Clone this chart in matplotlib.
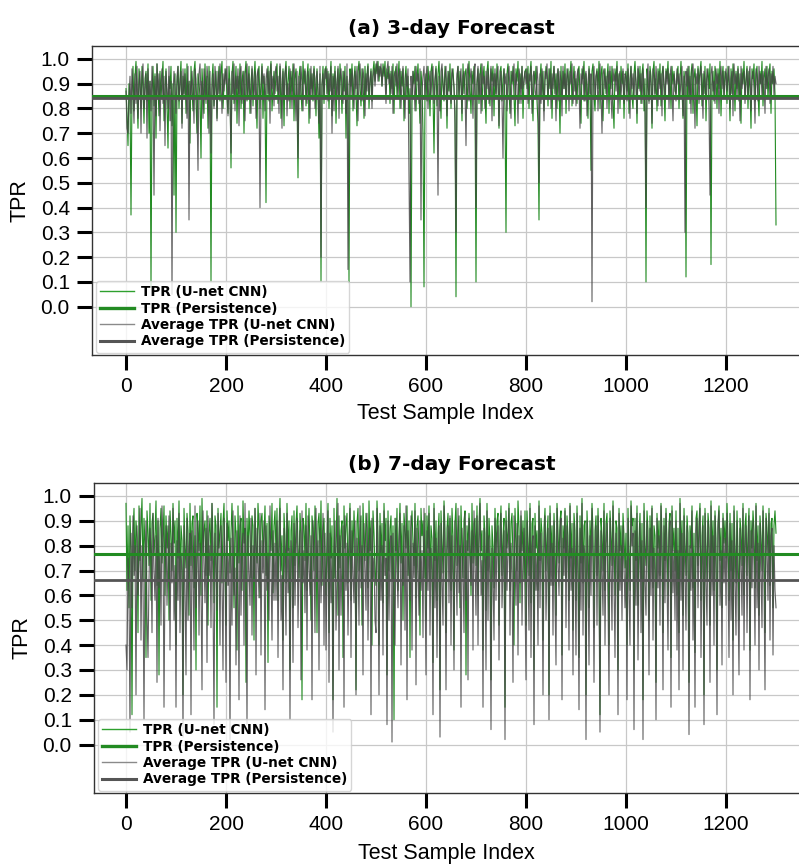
import numpy as np
import matplotlib
matplotlib.use("Agg")
import matplotlib.pyplot as plt
from matplotlib.lines import Line2D

plt.rcParams['font.family'] = ['Liberation Sans', 'DejaVu Sans']

# TPR per test sample in percent, one value for every 2nd test sample (0, 2, ..., 1300)

# ---------------- (a) 3-day forecast ----------------
tpr3_unet = [
    88, 78, 65, 90, 84, 37, 86, 97, 79, 93, 99, 85, 72, 96, 90, 80, 97, 88, 74, 92, 95, 83, 98, 70, 91,
    8, 86, 97, 81, 94, 68, 98, 89, 77, 95, 84, 92, 99, 75, 87, 96, 82, 64, 93, 88, 97, 73, 90, 45, 94,
    30, 89, 97, 80, 92, 99, 74, 93, 86, 96, 78, 98, 84, 91, 66, 97, 88, 79, 95, 99, 83, 70, 94, 90, 85,
    60, 96, 87, 78, 98, 84, 93, 72, 97, 86, 10, 92, 98, 81, 88, 95, 76, 90, 97, 83, 94, 99, 80, 89, 93,
    96, 84, 78, 97, 90, 56, 94, 99, 82, 88, 97, 74, 93, 86, 98, 80, 91, 95, 70, 94, 99, 83, 89, 97, 78,
    91, 96, 81, 92, 99, 87, 72, 94, 97, 80, 90, 98, 76, 93, 85, 42, 91, 97, 83, 94, 99, 79, 88, 95, 86,
    94, 98, 82, 90, 97, 76, 88, 96, 73, 94, 99, 85, 91, 97, 80, 95, 87, 98, 75, 92, 96, 84, 52, 93, 97,
    86, 79, 99, 90, 95, 81, 93, 98, 74, 96, 88, 94, 83, 97, 90, 77, 96, 86, 68, 94, 10, 89, 97, 82, 95,
    97, 86, 95, 80, 92, 99, 77, 94, 88, 97, 74, 91, 96, 84, 98, 90, 78, 95, 87, 97, 68, 93, 82, 10, 96,
    89, 98, 79, 92, 97, 86, 73, 95, 99, 88, 81, 96, 91, 76, 97, 85, 94, 98, 80, 90, 96, 83, 95, 99, 91,
    98, 94, 99, 91, 97, 96, 89, 98, 93, 99, 86, 96, 92, 97, 82, 95, 88, 98, 78, 94, 97, 85, 92, 99, 80,
    95, 89, 96, 75, 92, 97, 84, 93, 78, 88, 0, 82, 95, 90, 97, 79, 92, 98, 86, 74, 95, 89, 70, 8, 88,
    94, 83, 97, 90, 77, 95, 98, 86, 62, 92, 97, 81, 94, 99, 88, 76, 96, 90, 83, 97, 92, 72, 95, 87, 98,
    80, 94, 96, 88, 79, 4, 92, 97, 84, 95, 90, 75, 98, 86, 94, 96, 80, 92, 99, 88, 78, 95, 90, 97, 85,
    10, 90, 96, 82, 94, 98, 79, 92, 97, 86, 74, 95, 99, 88, 81, 96, 91, 97, 77, 94, 86, 98, 90, 72, 95,
    97, 83, 92, 96, 80, 30, 94, 98, 87, 78, 95, 90, 97, 85, 73, 96, 91, 99, 82, 94, 88, 97, 76, 92, 95,
    96, 88, 97, 80, 94, 99, 86, 75, 95, 90, 97, 83, 74, 35, 92, 98, 85, 95, 79, 91, 97, 93, 81, 96, 88,
    99, 76, 92, 97, 86, 94, 80, 96, 90, 70, 97, 84, 95, 88, 98, 78, 92, 96, 85, 94, 99, 81, 90, 97, 87,
    92, 82, 95, 97, 86, 74, 96, 92, 99, 83, 94, 88, 76, 97, 90, 55, 95, 98, 85, 79, 93, 96, 88, 99, 80,
    94, 97, 75, 91, 96, 86, 92, 98, 78, 95, 88, 97, 83, 72, 96, 91, 99, 85, 94, 80, 97, 90, 95, 76, 92,
    95, 87, 98, 78, 92, 97, 85, 80, 94, 99, 90, 74, 96, 88, 97, 82, 94, 98, 79, 92, 10, 96, 89, 83, 97,
    93, 72, 95, 99, 86, 92, 79, 96, 90, 98, 81, 94, 97, 88, 75, 96, 92, 99, 85, 94, 80, 97, 90, 95, 87,
    86, 94, 97, 80, 92, 99, 88, 76, 95, 90, 12, 96, 85, 97, 82, 94, 98, 78, 92, 96, 88, 73, 97, 90, 95,
    99, 81, 94, 86, 97, 75, 92, 96, 88, 98, 17, 90, 95, 83, 97, 93, 80, 96, 88, 99, 77, 92, 97, 85, 95,
    94, 82, 97, 90, 75, 96, 86, 98, 92, 79, 95, 88, 97, 83, 94, 74, 96, 90, 99, 85, 92, 97, 80, 95, 88,
    72, 96, 92, 98, 83, 94, 97, 86, 77, 95, 90, 99, 81, 92, 96, 88, 97, 84, 94, 98, 78, 95, 90, 96, 86,
    33]
tpr3_pers = [
    87, 72, 70, 84, 93, 78, 96, 86, 74, 94, 82, 97, 76, 90, 95, 70, 93, 98, 80, 88, 94, 68, 96, 84, 91,
    79, 97, 87, 45, 93, 77, 98, 85, 94, 71, 90, 96, 82, 93, 65, 95, 88, 80, 97, 75, 91, 5, 86, 95, 89,
    78, 93, 97, 83, 90, 95, 72, 96, 85, 94, 88, 76, 97, 35, 91, 84, 95, 87, 74, 96, 92, 80, 55, 94, 98,
    85, 91, 76, 96, 89, 82, 97, 92, 70, 95, 62, 88, 94, 80, 97, 91, 75, 95, 86, 98, 90, 78, 94, 87, 96,
    90, 97, 77, 92, 84, 62, 95, 86, 98, 79, 93, 88, 96, 73, 94, 97, 82, 90, 95, 75, 92, 98, 84, 94, 87,
    78, 97, 91, 85, 95, 76, 93, 96, 88, 40, 84, 97, 90, 94, 79, 92, 96, 86, 95, 74, 98, 88, 93, 81, 94,
    97, 87, 93, 78, 98, 91, 72, 95, 85, 94, 97, 77, 90, 83, 96, 91, 80, 94, 98, 88, 75, 95, 60, 93, 85,
    97, 90, 79, 94, 96, 87, 82, 95, 91, 76, 97, 85, 93, 96, 80, 92, 95, 88, 74, 97, 20, 90, 94, 84, 96,
    92, 96, 83, 94, 87, 97, 70, 93, 79, 95, 90, 84, 97, 76, 93, 96, 88, 82, 95, 91, 78, 98, 15, 90, 94,
    85, 96, 91, 80, 95, 88, 97, 75, 93, 98, 90, 83, 96, 92, 77, 94, 87, 97, 85, 92, 95, 80, 93, 96, 89,
    96, 99, 91, 97, 93, 98, 89, 95, 97, 92, 82, 96, 99, 90, 94, 86, 97, 78, 93, 95, 89, 98, 84, 94, 96,
    80, 91, 97, 87, 76, 94, 89, 96, 55, 10, 93, 84, 95, 90, 79, 97, 91, 94, 82, 96, 35, 87, 93, 97, 84,
    93, 97, 80, 90, 95, 85, 94, 97, 82, 91, 96, 88, 45, 93, 79, 95, 98, 90, 84, 94, 97, 77, 92, 95, 87,
    82, 96, 93, 89, 74, 30, 94, 97, 85, 91, 96, 78, 93, 95, 88, 65, 94, 98, 83, 91, 96, 89, 76, 95, 98,
    40, 91, 97, 84, 94, 78, 98, 90, 93, 80, 95, 88, 96, 82, 91, 97, 75, 94, 89, 96, 84, 93, 97, 73, 91,
    95, 83, 60, 96, 90, 94, 79, 93, 97, 87, 76, 95, 91, 98, 85, 94, 89, 74, 96, 93, 82, 97, 88, 91, 95,
    90, 96, 82, 94, 91, 97, 78, 93, 95, 87, 84, 97, 91, 50, 94, 82, 96, 89, 75, 95, 92, 98, 85, 91, 96,
    80, 94, 88, 97, 90, 75, 93, 96, 83, 95, 91, 77, 97, 88, 94, 84, 96, 93, 79, 95, 90, 98, 82, 91, 95,
    81, 93, 96, 88, 72, 94, 90, 97, 83, 93, 95, 77, 91, 96, 86, 94, 2, 90, 97, 84, 93, 95, 79, 91, 98,
    86, 70, 94, 96, 88, 93, 80, 95, 90, 97, 84, 76, 96, 91, 94, 87, 97, 78, 93, 95, 85, 91, 96, 82, 94,
    93, 83, 96, 90, 76, 97, 88, 94, 84, 95, 91, 78, 97, 93, 87, 94, 82, 96, 90, 79, 40, 91, 98, 82, 95,
    90, 74, 96, 93, 85, 97, 91, 81, 95, 88, 94, 77, 97, 91, 84, 95, 90, 96, 80, 93, 97, 88, 75, 94, 91,
    83, 96, 90, 94, 85, 91, 97, 77, 93, 30, 95, 89, 97, 84, 93, 78, 95, 98, 88, 72, 94, 90, 96, 82, 93,
    97, 88, 76, 95, 91, 85, 96, 93, 80, 45, 94, 97, 87, 91, 82, 96, 90, 94, 78, 93, 97, 88, 95, 84, 91,
    96, 87, 93, 97, 80, 92, 95, 77, 98, 90, 94, 84, 96, 91, 75, 97, 88, 93, 95, 82, 90, 96, 85, 94, 97,
    79, 92, 95, 88, 74, 96, 93, 83, 97, 90, 94, 85, 95, 91, 78, 97, 88, 93, 96, 82, 94, 90, 97, 85, 93,
    90]
avg3_unet = 0.852
avg3_pers = 0.843

# ---------------- (b) 7-day forecast ----------------
tpr7_unet = [
    97, 62, 88, 55, 92, 78, 12, 85, 95, 70, 90, 83, 45, 96, 74, 88, 99, 66, 91, 80, 35, 94, 86, 72, 97,
    58, 89, 93, 76, 84, 98, 64, 90, 28, 87, 95, 73, 82, 96, 60, 92, 79, 88, 50, 94, 85, 70, 97, 81, 90,
    40, 91, 75, 98, 66, 88, 82, 20, 95, 80, 71, 93, 86, 52, 97, 72, 89, 92, 63, 84, 30, 93, 87, 78, 96,
    60, 99, 77, 86, 90, 68, 94, 48, 85, 91, 74, 97, 83, 57, 92, 88, 15, 95, 79, 86, 93, 65, 89, 97, 73,
    48, 94, 82, 90, 69, 85, 97, 79, 55, 92, 85, 38, 96, 73, 88, 91, 62, 98, 81, 87, 25, 91, 76, 94, 84,
    67, 92, 88, 42, 95, 80, 73, 97, 86, 59, 90, 93, 77, 84, 96, 68, 89, 33, 92, 85, 78, 97, 61, 88, 94,
    76, 95, 58, 87, 99, 70, 84, 42, 93, 84, 65, 97, 78, 90, 30, 86, 92, 55, 94, 72, 89, 96, 80, 67, 93,
    85, 18, 91, 88, 74, 97, 62, 83, 95, 79, 50, 92, 87, 70, 96, 84, 45, 89, 93, 77, 98, 64, 86, 91, 73,
    60, 83, 97, 45, 91, 75, 88, 18, 95, 67, 80, 99, 52, 92, 71, 86, 90, 35, 96, 79, 88, 93, 65, 84, 97,
    58, 90, 76, 94, 82, 22, 89, 95, 70, 86, 92, 48, 97, 81, 74, 93, 87, 63, 98, 78, 90, 40, 94, 85, 69,
    64, 98, 85, 40, 93, 76, 89, 57, 97, 82, 91, 28, 94, 70, 87, 92, 66, 88, 10, 91, 78, 95, 62, 84, 97,
    73, 89, 50, 93, 86, 79, 96, 68, 90, 35, 87, 94, 81, 72, 97, 59, 88, 92, 76, 44, 95, 84, 90, 67, 93,
    50, 92, 79, 96, 66, 88, 83, 33, 97, 74, 90, 58, 85, 93, 22, 94, 81, 69, 98, 87, 45, 87, 93, 76, 91,
    62, 95, 84, 38, 89, 97, 72, 86, 92, 55, 96, 80, 67, 90, 94, 28, 88, 78, 93, 85, 60, 97, 73, 89, 91,
    72, 96, 60, 89, 99, 78, 86, 38, 92, 85, 54, 97, 70, 91, 82, 26, 88, 80, 63, 95, 76, 90, 93, 48, 87,
    96, 68, 84, 91, 15, 94, 79, 86, 97, 62, 89, 93, 74, 40, 95, 83, 70, 98, 87, 57, 92, 78, 90, 66, 94,
    48, 94, 83, 68, 97, 57, 89, 91, 30, 93, 79, 86, 62, 98, 74, 91, 85, 42, 87, 95, 70, 84, 92, 20, 96,
    77, 88, 64, 93, 81, 52, 97, 86, 73, 90, 94, 36, 88, 79, 95, 67, 92, 84, 58, 97, 75, 89, 46, 93, 86,
    58, 96, 80, 35, 92, 73, 99, 65, 88, 90, 20, 94, 82, 55, 90, 77, 97, 86, 47, 86, 92, 68, 95, 79, 12,
    91, 84, 70, 97, 62, 89, 93, 76, 40, 94, 85, 72, 98, 81, 60, 90, 87, 30, 95, 78, 88, 66, 93, 84, 71,
    85, 40, 95, 78, 62, 98, 88, 91, 30, 91, 74, 96, 56, 83, 93, 66, 89, 18, 97, 80, 72, 94, 86, 50, 92,
    77, 96, 63, 88, 84, 25, 93, 79, 90, 68, 97, 85, 45, 91, 74, 95, 82, 60, 89, 93, 35, 96, 78, 87, 70,
    94, 60, 87, 45, 99, 76, 90, 52, 95, 82, 68, 92, 85, 25, 88, 79, 96, 63, 85, 37, 91, 94, 72, 89, 97,
    58, 84, 92, 20, 95, 80, 66, 93, 87, 48, 98, 76, 90, 62, 94, 83, 30, 89, 96, 74, 87, 55, 93, 81, 90,
    75, 97, 83, 58, 93, 70, 89, 42, 96, 81, 65, 94, 78, 50, 91, 86, 72, 97, 60, 88, 93, 68, 85, 95, 38,
    90, 79, 94, 86, 63, 97, 74, 88, 52, 92, 84, 70, 96, 81, 45, 93, 87, 76, 95, 64, 89, 91, 55, 88, 94,
    85]
tpr7_pers = [
    40, 30, 75, 62, 5, 85, 55, 92, 68, 80, 20, 88, 60, 73, 95, 42, 80, 66, 10, 74, 90, 52, 35, 66, 87,
    78, 45, 93, 70, 58, 84, 25, 91, 63, 77, 48, 96, 82, 15, 69, 88, 56, 74, 92, 38, 81, 65, 95, 50, 72,
    15, 82, 58, 93, 45, 77, 70, 3, 88, 62, 28, 91, 50, 79, 85, 12, 86, 70, 38, 96, 55, 73, 90, 44, 81,
    64, 22, 94, 76, 57, 87, 33, 92, 68, 80, 47, 97, 60, 8, 85, 72, 54, 93, 78, 40, 88, 66, 30, 91, 74,
    25, 89, 64, 76, 2, 83, 48, 94, 60, 71, 32, 86, 72, 18, 92, 52, 78, 85, 40, 97, 65, 8, 84, 70, 56,
    91, 44, 80, 67, 95, 28, 87, 74, 59, 93, 36, 82, 69, 90, 14, 88, 62, 77, 50, 96, 73, 42, 86, 58, 81,
    58, 90, 35, 76, 95, 50, 68, 22, 87, 70, 44, 93, 61, 79, 10, 82, 74, 33, 89, 56, 80, 91, 47, 72, 86,
    26, 94, 65, 78, 53, 88, 38, 92, 71, 60, 84, 18, 90, 76, 45, 95, 67, 82, 30, 87, 57, 73, 93, 40, 85,
    38, 70, 94, 25, 85, 57, 76, 5, 78, 90, 46, 66, 97, 30, 84, 52, 76, 88, 15, 92, 62, 81, 44, 73, 95,
    35, 86, 68, 57, 90, 20, 83, 74, 48, 96, 63, 80, 28, 89, 71, 54, 93, 42, 78, 87, 12, 91, 66, 75, 50,
    45, 95, 72, 20, 88, 58, 80, 36, 94, 68, 75, 8, 90, 50, 77, 84, 1, 85, 60, 40, 91, 70, 55, 82, 93,
    32, 76, 64, 88, 46, 96, 18, 86, 73, 58, 92, 38, 81, 67, 94, 24, 87, 70, 52, 90, 62, 78, 43, 95, 66,
    28, 86, 62, 93, 44, 79, 70, 12, 95, 55, 83, 35, 74, 88, 3, 89, 66, 48, 96, 76, 22, 78, 88, 57, 92,
    40, 84, 68, 30, 90, 73, 52, 95, 61, 80, 15, 87, 70, 45, 93, 58, 82, 26, 91, 76, 64, 86, 38, 94, 72,
    52, 92, 40, 81, 97, 60, 74, 15, 87, 73, 30, 94, 50, 84, 68, 6, 79, 67, 42, 91, 58, 82, 88, 34, 76,
    93, 55, 70, 86, 2, 90, 62, 78, 95, 44, 81, 69, 25, 92, 73, 56, 89, 36, 84, 65, 94, 48, 77, 87, 60,
    26, 90, 70, 46, 95, 35, 80, 84, 8, 88, 62, 76, 40, 96, 55, 85, 72, 20, 78, 92, 50, 72, 87, 10, 93,
    64, 81, 44, 90, 58, 32, 95, 74, 60, 86, 91, 18, 83, 68, 94, 47, 88, 75, 38, 96, 62, 79, 28, 89, 70,
    36, 93, 66, 14, 87, 54, 97, 44, 80, 76, 2, 90, 68, 32, 84, 60, 95, 72, 25, 75, 88, 48, 92, 64, 5,
    86, 70, 52, 94, 40, 81, 89, 58, 20, 91, 73, 46, 96, 66, 35, 85, 78, 12, 93, 62, 80, 50, 88, 71, 55,
    74, 18, 91, 62, 40, 96, 80, 85, 6, 86, 56, 93, 34, 72, 89, 45, 82, 2, 94, 65, 52, 90, 76, 28, 87,
    60, 95, 42, 79, 70, 10, 91, 63, 84, 48, 96, 73, 22, 88, 57, 93, 67, 38, 85, 90, 15, 94, 61, 78, 50,
    90, 38, 78, 22, 97, 58, 85, 30, 92, 68, 46, 88, 74, 4, 80, 62, 94, 42, 76, 15, 86, 91, 55, 83, 95,
    35, 72, 88, 8, 93, 66, 48, 90, 79, 25, 96, 60, 84, 40, 92, 70, 12, 87, 94, 56, 78, 32, 91, 65, 83,
    56, 93, 70, 35, 89, 50, 82, 20, 94, 66, 44, 90, 60, 28, 87, 74, 52, 95, 38, 80, 88, 45, 76, 92, 18,
    86, 63, 90, 72, 40, 96, 55, 81, 30, 89, 70, 47, 94, 65, 22, 91, 78, 58, 93, 42, 84, 87, 36, 80, 62,
    55]
avg7_unet = 0.768
avg7_pers = 0.660

labels = ['TPR (U-net CNN)', 'TPR (Persistence)',
          'Average TPR (U-net CNN)', 'Average TPR (Persistence)']

GREEN = '#228b22'
GRAY = '#474747'

fig = plt.figure(figsize=(7.99, 8.64), dpi=100)
ax_a = fig.add_axes([92 / 799, 1 - 355 / 864, 1 - 92 / 799, 309 / 864])
ax_b = fig.add_axes([94 / 799, 1 - 793 / 864, 1 - 94 / 799, 310 / 864])


def panel(ax, unet, pers, avg_u, avg_p, title, xleft, xpad):
    x_u = 2 * np.arange(len(unet))
    x_p = 2 * np.arange(len(pers))
    ax.plot(x_u, np.array(unet) / 100, color=GREEN, lw=0.8, zorder=3)
    ax.axhline(avg_u, color=GREEN, lw=2.2, zorder=5)
    ax.plot(x_p, np.array(pers) / 100, color=GRAY, lw=0.8, alpha=0.85, zorder=4)
    ax.axhline(avg_p, color='#555555', lw=2.0, zorder=5)
    # legend handles as they appear in the original figure
    handles = [Line2D([], [], color='#2ea02e', lw=1.0),
               Line2D([], [], color=GREEN, lw=2.4),
               Line2D([], [], color='#8a8a8a', lw=1.0),
               Line2D([], [], color='#555555', lw=2.2)]
    ax.set_xlim(xleft, 1346)
    ax.set_ylim(-0.195, 1.052)
    ax.set_yticks(np.arange(0, 1.01, 0.1))
    ax.set_yticklabels(['%.1f' % v for v in np.arange(0, 1.01, 0.1)])
    ax.set_xticks(range(0, 1201, 200))
    ax.grid(True, color='#c8c8c8', lw=0.9, zorder=0)
    ax.set_axisbelow(True)
    ax.tick_params(axis='both', length=11, width=2.2, color='black',
                   labelsize=15, pad=5)
    for s in ['left', 'top', 'bottom']:
        ax.spines[s].set_color('#333333')
        ax.spines[s].set_linewidth(1.0)
    ax.spines['right'].set_visible(False)
    ax.set_title(title, fontsize=14.5, fontweight='bold', pad=9, x=0.508,
                 family='DejaVu Sans')
    ax.set_xlabel('Test Sample Index', fontsize=15.5, labelpad=xpad)
    ax.set_ylabel('TPR', fontsize=15.5, labelpad=7)
    ax.legend(handles, labels, loc='lower left',
              bbox_to_anchor=(0.006, 0.008), borderaxespad=0,
              prop={'weight': 'bold', 'size': 9.8, 'family': 'DejaVu Sans'},
              labelspacing=0.18, handlelength=2.5, handletextpad=0.5,
              borderpad=0.3, framealpha=0.8, edgecolor='#cccccc', fancybox=True)


panel(ax_a, tpr3_unet, tpr3_pers, avg3_unet, avg3_pers, '(a) 3-day Forecast', -68, 5)
panel(ax_b, tpr7_unet, tpr7_pers, avg7_unet, avg7_pers, '(b) 7-day Forecast', -64, 6.5)

fig.savefig('out.png', dpi=100)
